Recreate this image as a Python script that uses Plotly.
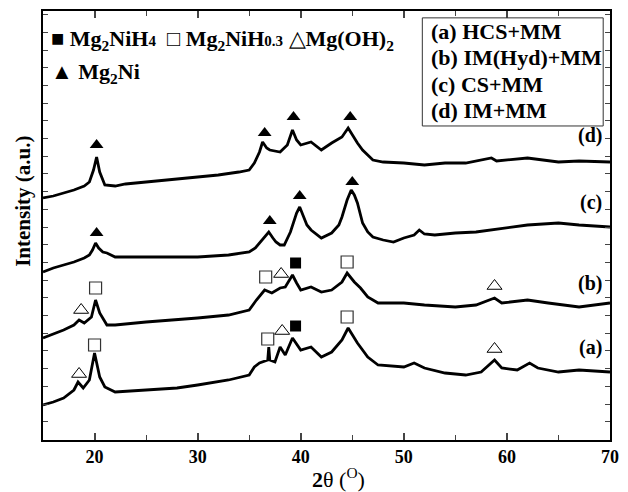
import plotly.graph_objects as go

# ---- data (2theta in degrees, intensity in arbitrary units incl. vertical offsets) ----
d_x = [15, 16, 17, 18, 19, 19.5, 19.9, 20.2, 20.5, 21, 22, 23, 25, 27, 30, 32, 34, 35, 35.5, 36, 36.3, 36.7, 37, 38,
       38.7, 39.2, 39.6, 40, 41, 42, 43, 44, 44.6, 45, 45.5, 46, 47, 48, 50, 52, 54, 56, 58.5, 59, 60, 62, 65, 67, 70]
d_y = [242, 244, 247, 250, 254, 258, 270, 283, 268, 255, 254, 256, 258, 260, 263, 265, 268, 270, 277, 288, 298, 292, 290, 288,
       295, 310, 300, 295, 298, 290, 297, 303, 312, 305, 297, 290, 280, 278, 277, 275, 277, 277, 282, 279, 280, 282, 278, 279, 278]

c_x = [15, 16, 17, 18, 19, 19.5, 19.8, 20.1, 20.4, 20.8, 21.2, 22, 25, 28, 30, 33, 35, 35.6, 36, 36.5, 36.9, 37.3, 37.6, 38,
       38.4, 39, 39.3, 39.6, 39.9, 40.2, 40.6, 41, 42, 43, 43.7, 44, 44.5, 44.9, 45.2, 45.5, 46, 46.5, 47, 48, 49, 50, 51,
       51.5, 52, 53, 55, 57, 60, 62, 65, 67, 70]
c_y = [168, 172, 175, 178, 182, 185, 190, 197, 192, 188, 187, 183, 183, 183, 183, 185, 188, 192, 197, 203, 208, 202, 198, 195,
       195, 208, 217, 227, 233, 225, 215, 210, 202, 207, 215, 223, 240, 250, 245, 237, 217, 208, 203, 200, 198, 202, 205,
       210, 206, 205, 207, 208, 212, 215, 217, 215, 213]

b_x = [15, 16, 17, 18, 18.5, 19, 19.7, 20.1, 20.5, 21.2, 22, 25, 28, 30, 33, 35, 35.7, 36.5, 37.2, 38, 38.5, 39.2, 39.6, 40,
       41, 42, 43, 44, 44.5, 45.2, 45.8, 46.5, 47.5, 50, 52, 55, 57, 58.8, 59.5, 62, 64, 67, 70]
b_y = [102, 106, 110, 115, 120, 117, 123, 140, 127, 115, 115, 118, 120, 122, 125, 130, 140, 150, 147, 152, 153, 165, 157, 150,
       153, 148, 150, 158, 167, 158, 152, 143, 137, 137, 135, 133, 135, 142, 137, 140, 137, 133, 137]

a_x = [15, 16, 17, 18, 18.4, 18.9, 19.5, 20.0, 20.5, 21, 22, 25, 28, 30, 33, 35, 35.5, 36, 36.8, 36.9, 37.0, 37.5, 38, 38.5,
       39.2, 40, 41, 42, 43, 44, 44.6, 45.5, 46.5, 47.5, 50, 51, 52, 54, 56, 57.5, 58.8, 59.5, 61, 62.2, 63, 65, 67, 70]
a_y = [35, 38, 42, 50, 58, 52, 60, 87, 63, 53, 48, 50, 52, 55, 60, 65, 73, 77, 80, 93, 80, 78, 93, 85,
       102, 90, 93, 83, 88, 100, 112, 97, 83, 75, 73, 77, 72, 67, 65, 68, 80, 72, 70, 77, 72, 68, 70, 68]

# phase markers (peak identifications)
mg2ni_x = [20.2, 36.5, 39.3, 44.8, 20.2, 37.0, 39.9, 45.0]
mg2ni_y = [295, 307, 323, 323, 207, 219, 244, 258]
mg2nih4_x = [39.5, 39.5]
mg2nih4_y = [177, 114]
mg2nih03_x = [20.1, 36.6, 44.5, 20.0, 36.8, 44.5]
mg2nih03_y = [152, 163, 178, 95, 101, 123]
mgoh2_x = [18.7, 38.1, 58.8, 18.5, 38.2, 58.8]
mgoh2_y = [130, 166, 154, 66, 109, 91]

curve_labels = ["(d)", "(c)", "(b)", "(a)"]
curve_label_y = [305, 238, 157, 93]
box_lines = ["(a) HCS+MM", "(b) IM(Hyd)+MM", "(c) CS+MM", "(d) IM+MM"]
x_ticks = [20, 30, 40, 50, 60, 70]
x_minor = [25, 35, 45, 55, 65]

SERIF = "Liberation Serif, Times New Roman, serif"

fig = go.Figure()
for xs, ys in [(d_x, d_y), (c_x, c_y), (b_x, b_y), (a_x, a_y)]:
    fig.add_trace(go.Scatter(x=xs, y=ys, mode="lines", line=dict(color="black", width=2.8),
                             showlegend=False, hoverinfo="skip"))

fig.add_trace(go.Scatter(x=mg2ni_x, y=mg2ni_y, mode="markers",
                         marker=dict(symbol="triangle-up", size=12, color="black"), showlegend=False))
fig.add_trace(go.Scatter(x=mg2nih4_x, y=mg2nih4_y, mode="markers",
                         marker=dict(symbol="square", size=11, color="black"), showlegend=False))
fig.add_trace(go.Scatter(x=mg2nih03_x, y=mg2nih03_y, mode="markers",
                         marker=dict(symbol="square-open", size=12, color="#333", line=dict(width=1.2)),
                         showlegend=False))
fig.add_trace(go.Scatter(x=mgoh2_x, y=mgoh2_y, mode="markers",
                         marker=dict(symbol="triangle-up-open", size=13, color="black", line=dict(width=1)),
                         showlegend=False))

annotations = []
for lab, ly in zip(curve_labels, curve_label_y):
    annotations.append(dict(x=70, y=ly, xref="x", yref="y", text="<b>" + lab + "</b>", showarrow=False,
                            xanchor="right", xshift=-6, yanchor="middle",
                            font=dict(family=SERIF, size=20, color="black")))
# sample legend box
for i, t in enumerate(box_lines):
    annotations.append(dict(x=0.681, y=0.953 - i * 0.062, xref="paper", yref="paper", text="<b>" + t + "</b>",
                            showarrow=False, xanchor="left", yanchor="middle",
                            font=dict(family=SERIF, size=22, color="black")))
# phase legend
annotations += [
    dict(x=0.0, y=0.932, xref="paper", yref="paper", showarrow=False, xanchor="left", yanchor="middle", xshift=6,
         text="■ <b>Mg<sub>2</sub>NiH</b><span style='font-size:15px'><b>4</b></span>  □ <b>Mg<sub>2</sub>NiH</b><span style='font-size:15px'><b>0.3</b></span> △<b>Mg(OH)</b><b><sub>2</sub></b>",
         font=dict(family=SERIF, size=22, color="black")),
    dict(x=0.0, y=0.855, xref="paper", yref="paper", showarrow=False, xanchor="left", yanchor="middle", xshift=6,
         text="▲ <b>Mg<sub>2</sub>Ni</b>",
         font=dict(family=SERIF, size=22, color="black")),
    # axis titles
    dict(x=-0.0356, y=0.557, xref="paper", yref="paper", showarrow=False, textangle=-90,
         xanchor="center", yanchor="middle", text="<b>Intensity (a.u.)</b>",
         font=dict(family=SERIF, size=21, color="black")),
    dict(x=0.521, y=-0.0886, xref="paper", yref="paper", showarrow=False,
         xanchor="center", yanchor="middle", text="<b>2</b>θ (<sup>O</sup>)",
         font=dict(family=SERIF, size=22, color="black")),
]

fig.update_layout(
    width=628, height=492,
    margin=dict(l=42.5, r=9, t=11, b=52),
    paper_bgcolor="white", plot_bgcolor="white",
    annotations=annotations,
    shapes=[dict(type="rect", xref="paper", yref="paper", x0=0.669, x1=0.988, y0=0.732, y1=0.984,
                 line=dict(color="#333", width=1), fillcolor="rgba(0,0,0,0)")],
    xaxis=dict(range=[15, 70], tickvals=x_ticks, ticktext=["<b>%d</b>" % v for v in x_ticks],
               ticks="inside", ticklen=7, tickwidth=1.5,
               showline=True, linecolor="black", linewidth=1.5, mirror="ticks", showgrid=False, zeroline=False,
               minor=dict(tickvals=x_minor, ticks="inside", ticklen=5, tickwidth=1.3),
               tickfont=dict(family=SERIF, size=18, color="black")),
    yaxis=dict(range=[0, 429], tick0=18.3, dtick=17.7, ticks="inside", ticklen=5, tickwidth=1.2,
               showticklabels=False, showline=True, linecolor="black", linewidth=1.5, mirror="ticks",
               showgrid=False, zeroline=False),
)

fig.write_html("out.html")
